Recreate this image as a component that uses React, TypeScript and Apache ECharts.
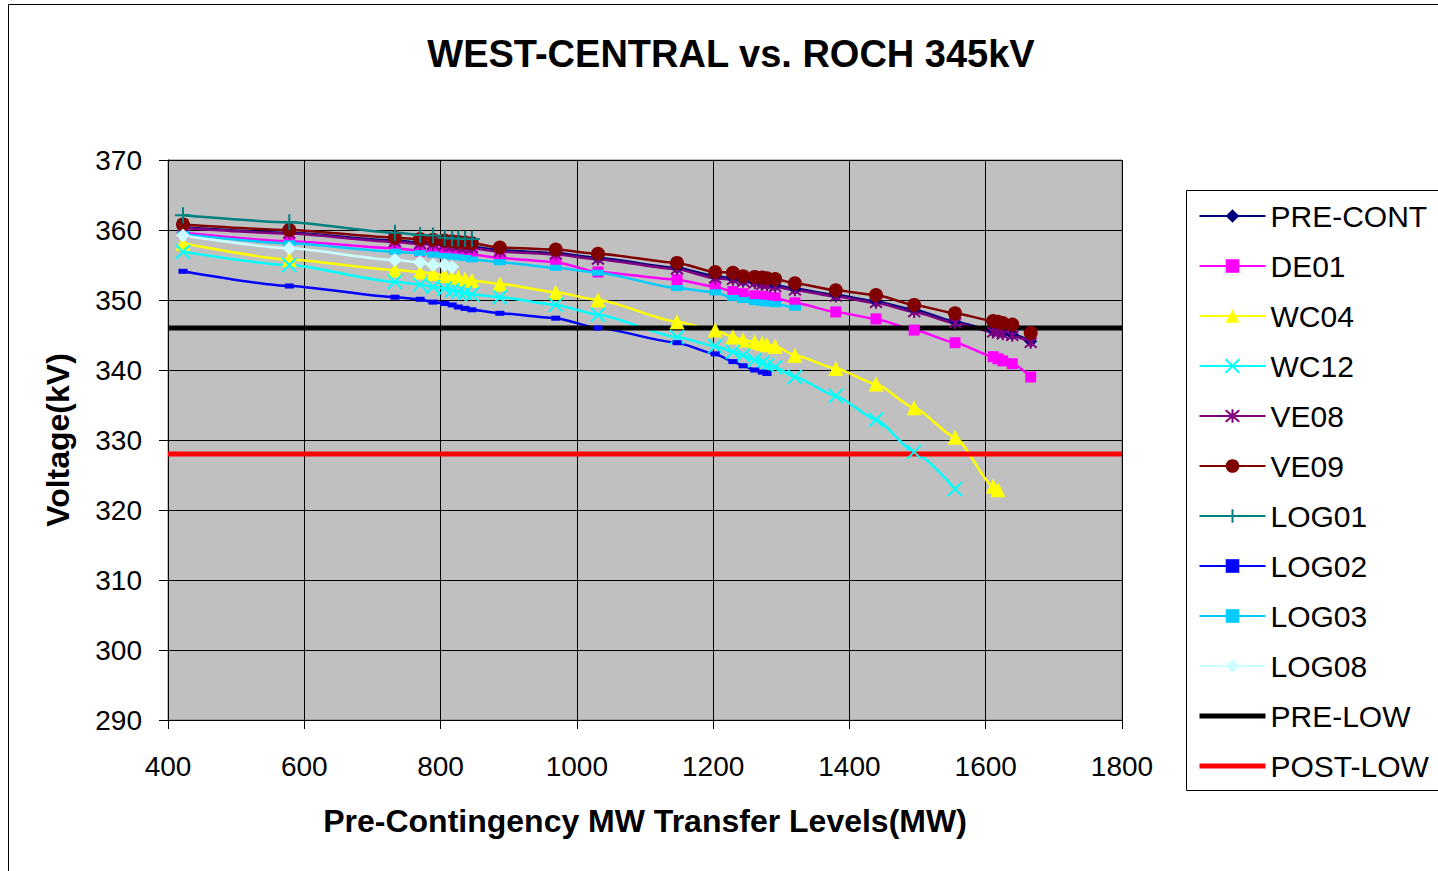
import React, { useEffect, useRef } from "react";
import * as echarts from "echarts";

// Transfer levels (MW) shared by the cases
const X_MW = [
  422, 578, 733, 770, 789, 806, 817, 826, 836, 846, 887, 969, 1031, 1147, 1203,
  1229, 1244, 1261, 1272, 1279, 1291, 1320, 1380, 1439, 1495, 1555, 1611, 1618,
  1625, 1639, 1666,
];

// Voltages (kV) per case, aligned with X_MW (shorter arrays stop earlier)
const PRE_CONT = [
  360.4, 359.6, 358.5, 358.2, 358.1, 358.0, 357.9, 357.8, 357.7, 357.6, 357.1,
  356.7, 356.0, 354.6, 353.4, 353.1, 352.8, 352.6, 352.4, 352.3, 352.1, 351.6,
  350.7, 349.8, 348.6, 346.9, 345.6, 345.5, 345.3, 345.1, 344.1,
];
const DE01 = [
  359.6, 358.4, 357.4, 357.0, 356.9, 356.8, 356.7, 356.7, 356.6, 356.5, 356.0,
  355.4, 354.0, 352.9, 351.9, 351.2, 350.9, 350.6, 350.5, 350.4, 350.3, 349.6,
  348.3, 347.3, 345.7, 343.9, 341.9, 341.6, 341.3, 340.9, 339.0,
];
const WC04 = [
  358.1, 355.8, 354.3, 354.0, 353.8, 353.5, 353.3, 353.2, 353.0, 352.8, 352.3,
  351.1, 350.0, 346.9, 345.7, 344.7, 344.3, 344.0, 343.8, 343.6, 343.4, 342.1,
  340.2, 338.0, 334.6, 330.4, 323.4, 322.9,
];
const WC12 = [
  356.9, 355.0, 352.6, 352.2, 351.9, 351.6, 351.4, 351.2, 351.0, 350.8, 350.4,
  349.3, 347.9, 344.7, 343.4, 342.6, 342.1, 341.4, 341.0, 340.7, 340.4, 339.0,
  336.3, 332.9, 328.3, 323.0,
];
const VE08 = [
  360.3, 359.5, 358.3, 358.0, 357.9, 357.8, 357.7, 357.6, 357.5, 357.4, 356.9,
  356.5, 355.8, 354.4, 353.1, 352.9, 352.6, 352.4, 352.2, 352.1, 351.9, 351.4,
  350.5, 349.6, 348.3, 346.7, 345.4, 345.3, 345.1, 344.9, 343.9,
];
const VE09 = [
  360.8, 360.0, 358.9, 358.7, 358.6, 358.5, 358.4, 358.3, 358.2, 358.1, 357.5,
  357.2, 356.6, 355.3, 354.0, 353.9, 353.4, 353.3, 353.2, 353.1, 353.0, 352.4,
  351.4, 350.7, 349.3, 348.1, 347.0, 346.9, 346.7, 346.5, 345.3,
];
const LOG01 = [362.1, 361.1, 359.6, 359.3, 359.2, 358.9, 358.8, 358.8, 358.7, 358.7];
const LOG02 = [
  354.1, 352.0, 350.4, 350.1, 349.7, 349.5, 349.3, 349.0, 348.8, 348.6, 348.1,
  347.4, 346.0, 343.9, 342.3, 341.2, 340.6, 340.0, 339.7, 339.5,
];
const LOG03 = [
  359.4, 358.1, 356.9, 356.7, 356.5, 356.3, 356.2, 356.1, 356.0, 355.8, 355.4,
  354.6, 353.9, 351.7, 351.1, 350.3, 350.0, 349.7, 349.6, 349.5, 349.4, 348.9,
];
const LOG08 = [359.2, 357.4, 355.7, 355.4, 355.0, 355.0, 354.7];

// Limits (kV) drawn across the whole transfer range
const LIMIT_X = [400, 1800];
const PRE_LOW = 346;
const POST_LOW = 328;

const X_TICKS = { min: 400, max: 1800, step: 200 };
const Y_TICKS = { min: 290, max: 370, step: 10 };

const FONT = "'Liberation Sans', Arial, sans-serif";

const X_PATH = "path://M0,0L10,10M10,0L0,10";
const STAR_PATH = "path://M0,0L10,10M10,0L0,10M5,-1L5,11";
const PLUS_PATH = "path://M5,0L5,10M0,5L10,5";

function pairs(ys: number[]) {
  return ys.map((y, i) => [X_MW[i], y]);
}

type Spec = {
  name: string;
  data: number[];
  color: string;
  symbol: string;
  size: number | number[];
  stroke?: boolean;
};

const SPECS: Spec[] = [
  { name: "PRE-CONT", data: PRE_CONT, color: "#000080", symbol: "diamond", size: 13 },
  { name: "DE01", data: DE01, color: "#FF00FF", symbol: "rect", size: 11 },
  { name: "WC04", data: WC04, color: "#FFFF00", symbol: "triangle", size: 15 },
  { name: "WC12", data: WC12, color: "#00FFFF", symbol: X_PATH, size: 14, stroke: true },
  { name: "VE08", data: VE08, color: "#800080", symbol: STAR_PATH, size: 12, stroke: true },
  { name: "VE09", data: VE09, color: "#800000", symbol: "circle", size: 14 },
  { name: "LOG01", data: LOG01, color: "#008080", symbol: PLUS_PATH, size: 16, stroke: true },
  { name: "LOG02", data: LOG02, color: "#0000FF", symbol: "rect", size: [9, 5] },
  { name: "LOG03", data: LOG03, color: "#00CCFF", symbol: "rect", size: [12, 6] },
  { name: "LOG08", data: LOG08, color: "#CCFFFF", symbol: "diamond", size: 14 },
];

const LIMITS = [
  { name: "PRE-LOW", value: PRE_LOW, color: "#000000" },
  { name: "POST-LOW", value: POST_LOW, color: "#FF0000" },
];

export default function App() {
  const ref = useRef<HTMLDivElement>(null);

  useEffect(() => {
    if (!ref.current) return;
    const chart = echarts.init(ref.current, null, { renderer: "svg" });

    const dataSeries = SPECS.map((s) => ({
      name: s.name,
      type: "line",
      data: pairs(s.data),
      smooth: 0.2,
      smoothMonotone: "x",
      showAllSymbol: true,
      symbol: s.symbol,
      symbolSize: s.size,
      lineStyle: { color: s.color, width: 2.5 },
      itemStyle: s.stroke
        ? { color: s.color, borderColor: s.color, borderWidth: 2 }
        : { color: s.color, borderWidth: 0 },
      emphasis: { disabled: true },
    }));

    const limitSeries = LIMITS.map((l) => ({
      name: l.name,
      type: "line",
      data: LIMIT_X.map((x) => [x, l.value]),
      symbol: "none",
      lineStyle: { color: l.color, width: 5 },
      itemStyle: { color: l.color },
      emphasis: { disabled: true },
    }));

    chart.setOption({
      animation: false,
      backgroundColor: "#ffffff",
      textStyle: { fontFamily: FONT },
      graphic: [
        {
          type: "rect",
          z: -10,
          shape: { x: 8.5, y: 4.5, width: 1500, height: 1000 },
          style: { fill: "none", stroke: "#000", lineWidth: 1 },
          silent: true,
        },
        {
          type: "rect",
          z: -5,
          shape: { x: 1186.5, y: 190.5, width: 400, height: 600 },
          style: { fill: "#fff", stroke: "#000", lineWidth: 1 },
          silent: true,
        },
        {
          type: "text",
          silent: true,
          style: {
            text: "WEST-CENTRAL vs. ROCH 345kV",
            x: 731,
            y: 54,
            textAlign: "center",
            textVerticalAlign: "middle",
            font: `bold 38px ${FONT}`,
            fill: "#000",
          },
        },
      ],
      grid: {
        left: 168,
        right: 1438 - 1122,
        top: 160,
        bottom: 871 - 720,
        show: true,
        backgroundColor: "#C0C0C0",
        borderColor: "#808080",
        borderWidth: 1,
      },
      legend: {
        orient: "vertical",
        left: 1197,
        top: 201,
        padding: 0,
        itemWidth: 66,
        itemHeight: 17,
        itemGap: 20,
        selectedMode: false,
        data: [
          ...SPECS.map((s) => ({ name: s.name })),
          ...LIMITS.map((l) => ({
            name: l.name,
            itemStyle: { opacity: 0 },
            lineStyle: { width: 5, color: l.color },
          })),
        ],
        textStyle: { fontSize: 30, lineHeight: 30, color: "#000", fontFamily: FONT },
      },
      xAxis: {
        type: "value",
        min: X_TICKS.min,
        max: X_TICKS.max,
        interval: X_TICKS.step,
        name: "Pre-Contingency MW Transfer Levels(MW)",
        nameLocation: "middle",
        nameGap: 85,
        nameTextStyle: { fontSize: 32, fontWeight: "bold", color: "#000", fontFamily: FONT },
        axisLine: { show: true, lineStyle: { color: "#000", width: 1 } },
        axisTick: { show: true, inside: false, length: 9, lineStyle: { color: "#000" } },
        axisLabel: {
          fontSize: 28,
          color: "#000",
          margin: 32,
          fontFamily: FONT,
          formatter: (v: number) => String(v),
        },
        splitLine: { show: true, lineStyle: { color: "#000", width: 1 } },
      },
      yAxis: {
        type: "value",
        min: Y_TICKS.min,
        max: Y_TICKS.max,
        interval: Y_TICKS.step,
        name: "Voltage(kV)",
        nameLocation: "middle",
        nameGap: 94,
        nameTextStyle: { fontSize: 32, fontWeight: "bold", color: "#000", fontFamily: FONT },
        axisLine: { show: true, lineStyle: { color: "#000", width: 1 } },
        axisTick: { show: true, inside: false, length: 9, lineStyle: { color: "#000" } },
        axisLabel: {
          fontSize: 28,
          color: "#000",
          margin: 26,
          fontFamily: FONT,
          formatter: (v: number) => String(v),
        },
        splitLine: { show: true, lineStyle: { color: "#000", width: 1 } },
      },
      series: [...dataSeries, ...limitSeries],
    });

    return () => chart.dispose();
  }, []);

  return (
    <div
      ref={ref}
      style={{ position: "fixed", left: 0, top: 0, width: 1438, height: 871 }}
    />
  );
}
